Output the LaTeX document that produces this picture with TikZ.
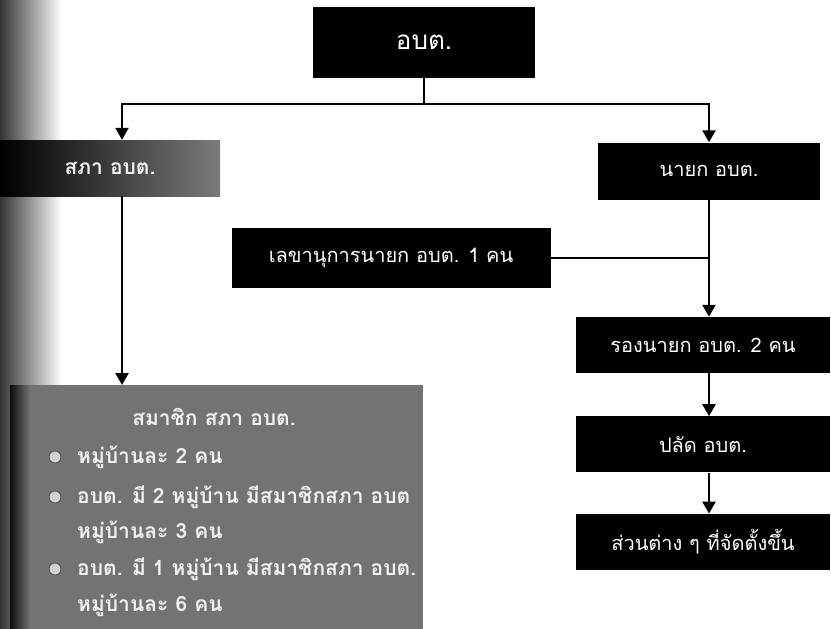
\documentclass[tikz,border=0pt]{standalone}
\usepackage{fontspec}
\newfontfamily\thaifont[Script=Thai]{Loma}
\usetikzlibrary{positioning,arrows.meta,calc,backgrounds}
\tikzset{
  orgbox/.style={fill=black, text=white, inner sep=0pt, minimum height=56pt,
    font=\thaifont\fontsize{20}{24}\selectfont},
  greybox/.style={orgbox, text=black!6, left color=black, right color=black!52,
    font=\thaifont\bfseries\fontsize{21}{25}\selectfont},
  memline/.style={anchor=west, inner sep=0pt, text=black!6,
    font=\thaifont\bfseries\fontsize{21}{25}\selectfont},
  memdot/.style={fill=black!18, draw=black!70, line width=0.8pt},
  flow/.style={-{Triangle[length=12pt, width=13pt]}, line width=2.4pt},
  link/.style={line width=2.2pt},
}

\begin{document}
\begin{tikzpicture}[x=1pt, y=-1pt]
\useasboundingbox (0,0) rectangle (831,629);
% scanned page edge
\begin{scope}[on background layer]
\shade[left color=black!80, right color=white] (0,0) rectangle (62,629);
\end{scope}
% top level
\node[orgbox, minimum width=222pt, minimum height=71pt,
  font=\thaifont\fontsize{26}{30}\selectfont] (obt) at (424,42) {อบต.};
% council side
\node[greybox, minimum width=220pt] (sapha) at (110,168) {สภา อบต.};
\node[fill=black!55, inner sep=0pt, minimum width=413pt, minimum height=244pt,
  anchor=north west] (member) at (10,385) {};
\shade[left color=black!95, right color=black!55] (member.north west) rectangle ($(member.south west)+(20,0)$);
\node[memline, anchor=center] (memtitle) at (214,417) {สมาชิก สภา อบต.};
\foreach \y/\t/\nm in {457/หมู่บ้านละ 2 คน/m1,
                       497/อบต. มี 2 หมู่บ้าน มีสมาชิกสภา อบต/m2,
                       532/หมู่บ้านละ 3 คน/m3,
                       569/อบต. มี 1 หมู่บ้าน มีสมาชิกสภา อบต./m4,
                       605/หมู่บ้านละ 6 คน/m5}
  \node[memline] (\nm) at (77,\y) {\t};
\foreach \nm in {m1,m2,m4}
  \fill[memdot] ($(\nm.west)+(-22,0)$) circle (6pt);
% executive side
\node[orgbox, minimum width=222pt, minimum height=57pt] (nayok) at (709,171) {นายก อบต.};
\node[orgbox, minimum width=319pt, minimum height=60pt] (lekha) at (391,258) {เลขานุการนายก อบต. 1 คน};
\node[orgbox, minimum width=254pt] (rong) at (703,345) {รองนายก อบต. 2 คน};
\node[orgbox, minimum width=254pt, below=43pt of rong] (palat) {ปลัด อบต.};
\node[orgbox, minimum width=254pt, below=41pt of palat] (suan) {ส่วนต่าง ๆ ที่จัดตั้งขึ้น};
% flows
\coordinate (busL) at (122,104);
\coordinate (busR) at (709,104);
\draw[link] (obt.south) -- (obt.south |- busL);
\draw[flow] (obt.south |- busL) -- (busL) -- (busL |- sapha.north);
\draw[flow] (obt.south |- busR) -- (busR) -- (busR |- nayok.north);
\draw[flow] (busL |- sapha.south) -- (busL |- member.north);
\draw[flow] (busR |- nayok.south) -- (busR |- rong.north);
\draw[link] (lekha.east) -- (lekha.east -| busR);
\draw[flow] (busR |- rong.south) -- (busR |- palat.north);
\draw[flow] (busR |- palat.south) -- (busR |- suan.north);
\end{tikzpicture}
\end{document}
